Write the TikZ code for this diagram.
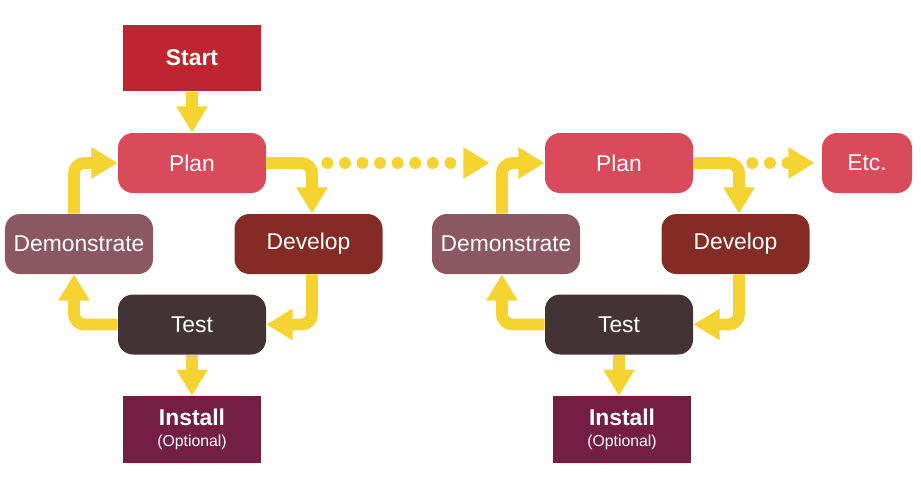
\documentclass[tikz,border=0pt]{standalone}
\usepackage{fontspec}
\setmainfont{Liberation Sans}
\usetikzlibrary{positioning,arrows.meta}
\definecolor{startred}{HTML}{BE2530}
\definecolor{planpink}{HTML}{D94A5B}
\definecolor{demomauve}{HTML}{8B5763}
\definecolor{devbrown}{HTML}{842B26}
\definecolor{testdark}{HTML}{433336}
\definecolor{installplum}{HTML}{741E43}
\definecolor{flowyellow}{HTML}{F5D432}

\begin{document}
\begin{tikzpicture}[node distance=2.1cm,on grid]
    \tikzset{
      stepbox/.style={rectangle,rounded corners=0.3cm,minimum width=2.96cm,minimum height=1.2cm,
        text=white,font=\fontsize{13}{15}\selectfont},
      endbox/.style={rectangle,minimum width=2.76cm,minimum height=1.33cm,text=white,
        align=center,font=\fontsize{13}{13}\selectfont\bfseries},
      flow/.style={draw=flowyellow,line width=6.8pt,rounded corners=6pt,
        -{Triangle[width=17pt,length=15pt]}},
      dotflow/.style={draw=flowyellow,line width=6.8pt,line cap=round,dash pattern=on 0pt off 10pt,
        -{Triangle[width=17pt,length=15pt]}}
    }
    \useasboundingbox (0,0) rectangle (18.42,-9.8);
    % first cycle
    \node[endbox,fill=startred] (start) at (3.84,-1.16) {Start};
    \node[stepbox,fill=planpink] (plan1) [below = of start] {Plan};
    \node[stepbox,fill=demomauve] (demo1) [below left = 1.62cm and 2.26cm of plan1] {Demonstrate};
    \node[stepbox,fill=devbrown] (dev1) [below right = 1.62cm and 2.33cm of plan1] {Develop};
    \node[stepbox,fill=testdark] (test1) [below = 3.23cm of plan1] {Test};
    \node[endbox,fill=installplum] (install1) [below = of test1]
      {Install\\[-1pt]{\fontsize{9}{10}\mdseries\selectfont(Optional)}};
    % second cycle
    \node[stepbox,fill=planpink] (plan2) [right = 8.54cm of plan1] {Plan};
    \node[stepbox,fill=demomauve] (demo2) [below left = 1.62cm and 2.26cm of plan2] {Demonstrate};
    \node[stepbox,fill=devbrown] (dev2) [below right = 1.62cm and 2.33cm of plan2] {Develop};
    \node[stepbox,fill=testdark] (test2) [below = 3.23cm of plan2] {Test};
    \node[endbox,fill=installplum] (install2) [below = of test2, xshift=0.06cm]
      {Install\\[-1pt]{\fontsize{9}{10}\mdseries\selectfont(Optional)}};
    \node[stepbox,fill=planpink,minimum width=1.8cm] (etc) [right = 4.96cm of plan2] {Etc.};

    \draw[flow] (start) -- (plan1);
    \draw[flow] (test1) -- (install1);
    \draw[flow] (test2) -- ([xshift=-0.06cm]install2.north);

    \draw[flow] (plan1.east) -| ([xshift=0.07cm]dev1.north);
    \draw[flow] ([xshift=0.07cm]dev1.south) |- (test1.east);
    \draw[flow] (test1.west) -| ([xshift=-0.1cm]demo1.south);
    \draw[flow] ([xshift=-0.1cm]demo1.north) |- (plan1.west);

    \draw[flow] (plan2.east) -| ([xshift=0.07cm]dev2.north);
    \draw[flow] ([xshift=0.07cm]dev2.south) |- (test2.east);
    \draw[flow] (test2.west) -| ([xshift=-0.08cm]demo2.south);
    \draw[flow] ([xshift=-0.08cm]demo2.north) |- (plan2.west);

    % dotted links
    \draw[dotflow] ([xshift=1.22cm]plan1.east) -- ([xshift=-1.1cm]plan2.west);
    \draw[dotflow] ([xshift=1.18cm]plan2.east) -- ([xshift=-0.14cm]etc.west);
\end{tikzpicture}
\end{document}
